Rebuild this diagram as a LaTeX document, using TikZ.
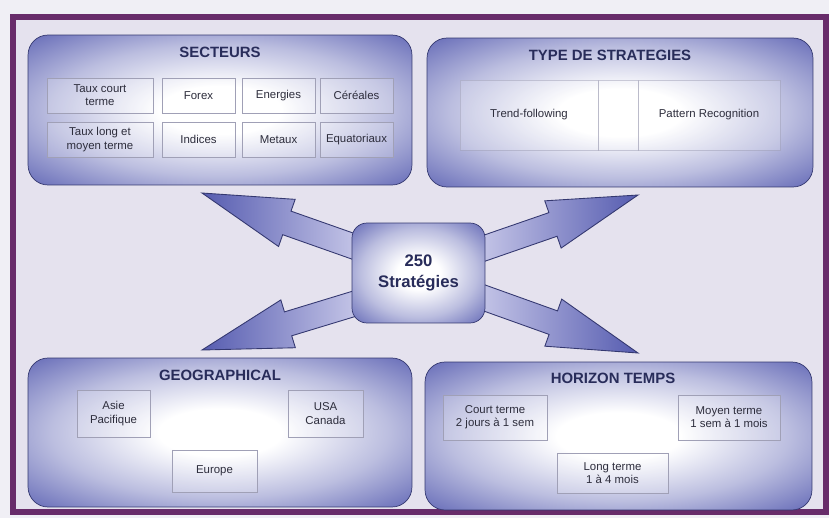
\documentclass[tikz,border=0pt]{standalone}
\usepackage{fontspec}
\setmainfont{Liberation Sans}
\usetikzlibrary{positioning}
\usetikzlibrary{calc}
\definecolor{panelblue}{RGB}{86,92,176}
\definecolor{paneledge}{RGB}{52,56,112}
\definecolor{arrowlight}{RGB}{206,206,236}
\definecolor{framepurple}{RGB}{104,44,106}
\definecolor{bglav}{RGB}{229,226,238}
\definecolor{outside}{RGB}{240,239,245}
\definecolor{titleblue}{RGB}{40,44,90}
\definecolor{celltext}{RGB}{45,45,60}
\definecolor{cellline}{RGB}{160,160,182}
\pgfdeclareradialshading{panelglow}{\pgfpoint{0bp}{0bp}}{color(0bp)=(white); color(8bp)=(white); color(22bp)=(panelblue!40!white); color(34bp)=(panelblue!85!white); color(44bp)=(panelblue); color(60bp)=(panelblue!85!black)}
\tikzstyle{panel}=[rounded corners=0.4cm, draw=paneledge, shade, shading=panelglow, inner sep=0pt]
\tikzstyle{paneltitle}=[font=\fontsize{8.5}{10}\selectfont\bfseries, text=titleblue]
\tikzstyle{cell}=[draw=cellline, fill=white, fill opacity=0.18, text opacity=1, align=center, text=celltext, font=\fontsize{6.5}{7.5}\selectfont, inner sep=1pt]
\tikzstyle{bigarrow}=[draw=paneledge, line width=0.5pt]

\begin{document}
\begin{tikzpicture}[x=0.02cm, y=-0.02cm]

  \useasboundingbox (0,0) rectangle (829,518);
  \fill[outside] (0,0) rectangle (829,518);
  \fill[bglav] (13,16.5) rectangle (826,512);
  \draw[framepurple, line width=0.12cm] (13,16.5) rectangle (826,512);

  % the four panels
  \node[panel, minimum width=7.68cm, minimum height=3cm] (secteurs) at (220,110) {};
  \node[panel, minimum width=7.72cm, minimum height=2.98cm] (types) at (620,112.5) {};
  \node[panel, minimum width=7.68cm, minimum height=2.98cm] (geo) at (220,432.5) {};
  \node[panel, minimum width=7.74cm, minimum height=2.96cm] (horizon) at (618.5,436) {};

  \node[paneltitle] (secteursT) at (220,52) {SECTEURS};
  \node[paneltitle] (typesT) at (610,55) {TYPE DE STRATEGIES};
  \node[paneltitle] (geoT) at (220,375) {GEOGRAPHICAL};
  \node[paneltitle] (horizonT) at (613,378) {HORIZON TEMPS};

  \foreach \pos/\name/\w/\txt in {{(100,95.5)/tcourt/2.12cm/{Taux court\\terme}}, {(198.5,95.5)/forex/1.46cm/Forex}, {(278.5,95.5)/energ/1.46cm/Energies}, {(356.5,95.5)/cereal/1.46cm/Céréales},
      {(100,139.5)/tlong/2.12cm/{Taux long et\\moyen terme}}, {(198.5,139.5)/indices/1.46cm/Indices}, {(278.5,139.5)/metaux/1.46cm/Metaux}, {(356.5,139.5)/equat/1.46cm/Equatoriaux}}
    \node[cell, minimum width=\w, minimum height=0.7cm] (\name) at \pos {\txt};

  \foreach \pos/\name/\w/\txt in {{(529,115)/trend/2.76cm/Trend-following}, {(618,115)/gap/0.8cm/{}}, {(709,115)/pattern/2.84cm/Pattern Recognition}}
    \node[cell, draw opacity=0.5, minimum width=\w, minimum height=1.4cm] (\name) at \pos {\txt};

  \foreach \pos/\name/\w/\h/\txt in {{(113.5,413.5)/asie/1.46cm/0.94cm/{Asie\\Pacifique}}, {(325.5,413.5)/usa/1.5cm/0.94cm/{USA\\Canada}}, {(214.5,471)/europe/1.7cm/0.84cm/Europe},
      {(495,417.5)/court/2.08cm/0.9cm/{Court terme\\2 jours à 1 sem}}, {(729,417.5)/moyen/2.04cm/0.9cm/{Moyen terme\\1 sem à 1 mois}}, {(612.5,473)/long/2.22cm/0.8cm/{Long terme\\1 à 4 mois}}}
    \node[cell, minimum width=\w, minimum height=\h] (\name) at \pos {\txt};

  % centre box and its four arrows
  \path (418.5,273) coordinate (mid);
  \coordinate (ult) at (202,193);
  \coordinate (llt) at (202,350);
  \coordinate (urt) at (638,195);
  \coordinate (lrt) at (638,353);
  \coordinate (uls) at ($(mid)+(-52,-22)$);
  \coordinate (lls) at ($(mid)+(-52,27)$);
  \coordinate (urs) at ($(mid)+(52,-20)$);
  \coordinate (lrs) at ($(mid)+(52,20)$);

  \foreach \s/\t/\lc/\rc in {uls/ult/panelblue/arrowlight, lls/llt/panelblue/arrowlight, urs/urt/arrowlight/panelblue, lrs/lrt/arrowlight/panelblue} {
    \coordinate (h) at ($(\t)!1.8cm!(\s)$);
    \shade[bigarrow, left color=\lc, right color=\rc] ($(\s)!0.25cm!90:(\t)$) -- ($(h)!0.25cm!90:(\t)$) -- ($(h)!0.5cm!90:(\t)$) -- (\t)
      -- ($(h)!0.5cm!-90:(\t)$) -- ($(h)!0.25cm!-90:(\t)$) -- ($(\s)!0.25cm!-90:(\t)$) -- cycle;
  }

  \node[panel, rounded corners=0.3cm, minimum width=2.66cm, minimum height=2cm, align=center, text=titleblue,
        font=\fontsize{9.5}{12}\selectfont\bfseries] (strat) at (mid) {250\\Stratégies};

\end{tikzpicture}
\end{document}
